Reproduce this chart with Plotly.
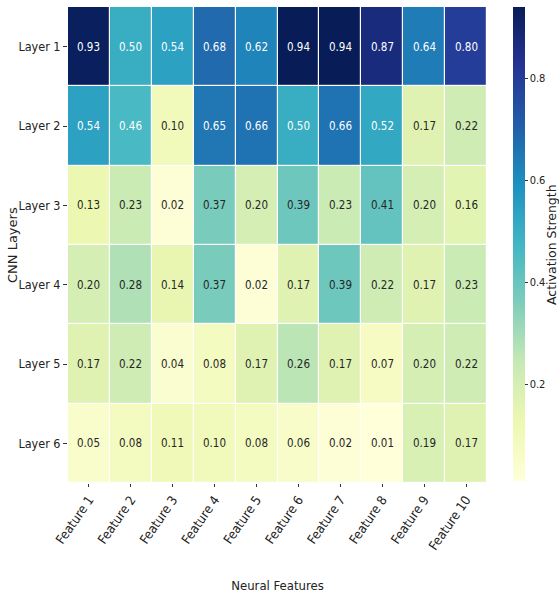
import plotly.graph_objects as go

# Activation strength per CNN layer (rows) and neural feature (columns)
layers = ["Layer 1", "Layer 2", "Layer 3", "Layer 4", "Layer 5", "Layer 6"]
features = [f"Feature {i}" for i in range(1, 11)]

layer1 = [0.93, 0.50, 0.54, 0.68, 0.62, 0.94, 0.94, 0.87, 0.64, 0.80]
layer2 = [0.54, 0.46, 0.10, 0.65, 0.66, 0.50, 0.66, 0.52, 0.17, 0.22]
layer3 = [0.13, 0.23, 0.02, 0.37, 0.20, 0.39, 0.23, 0.41, 0.20, 0.16]
layer4 = [0.20, 0.28, 0.14, 0.37, 0.02, 0.17, 0.39, 0.22, 0.17, 0.23]
layer5 = [0.17, 0.22, 0.04, 0.08, 0.17, 0.26, 0.17, 0.07, 0.20, 0.22]
layer6 = [0.05, 0.08, 0.11, 0.10, 0.08, 0.06, 0.02, 0.01, 0.19, 0.17]

z = [layer1, layer2, layer3, layer4, layer5, layer6]
zmin = min(min(r) for r in z)
zmax = max(max(r) for r in z)

ylgnbu = ["#ffffd9", "#edf8b1", "#c7e9b4", "#7fcdbb", "#41b6c4",
          "#1d91c0", "#225ea8", "#253494", "#081d58"]
colorscale = [[i / (len(ylgnbu) - 1), c] for i, c in enumerate(ylgnbu)]

FONT = "DejaVu Sans"
FONT_C = "DejaVu Sans Condensed"

W, H = 559, 594
L, R, T, B = 68, 72, 7, 111
plot_w = W - L - R


def px_to_paper_x(px):
    return (px - L) / plot_w


fig = go.Figure(go.Heatmap(
    z=z, x=features, y=layers,
    colorscale=colorscale, zmin=zmin, zmax=zmax,
    xgap=1.2, ygap=1.2,
    hoverongaps=False,
    colorbar=dict(
        thickness=12, lenmode="pixels", len=474,
        x=513 / W, xanchor="left", xpad=0, xref="container",
        y=1, yanchor="top", ypad=0,
        outlinewidth=0,
        tickvals=[0.2, 0.4, 0.6, 0.8], ticktext=["0.2", "0.4", "0.6", "0.8"],
        ticks="outside", ticklen=3, tickcolor="#333",
        tickfont=dict(family=FONT_C, size=11, color="#222"),
    ),
))

# Cell value labels, white text on dark cells
annotations = []
for layer, row in zip(layers, z):
    for feat, v in zip(features, row):
        annotations.append(dict(
            x=feat, y=layer, text=f"{v:.2f}", showarrow=False,
            font=dict(family=FONT_C, size=11.5,
                      color="white" if v >= 0.45 else "#262626"),
        ))

# Rotated axis / colorbar titles
annotations.append(dict(
    text="CNN Layers", textangle=-90, showarrow=False,
    xref="paper", yref="paper", x=px_to_paper_x(12), y=0.5,
    xanchor="center", yanchor="middle",
    font=dict(family=FONT, size=13, color="#222"),
))
annotations.append(dict(
    text="Activation Strength", textangle=-90, showarrow=False,
    xref="paper", yref="paper", x=px_to_paper_x(551), y=0.5,
    xanchor="center", yanchor="middle",
    font=dict(family=FONT, size=12.5, color="#222"),
))

fig.update_layout(
    width=W, height=H,
    margin=dict(l=L, r=R, t=T, b=B, autoexpand=False),
    plot_bgcolor="white", paper_bgcolor="white",
    annotations=annotations,
    xaxis=dict(
        title=dict(text="Neural Features", standoff=28,
                   font=dict(family=FONT_C, size=13, color="#222")),
        tickangle=-55, ticks="outside", ticklen=3, tickcolor="#333",
        tickfont=dict(family=FONT_C, size=13, color="#222"),
        showgrid=False, zeroline=False,
    ),
    yaxis=dict(
        autorange="reversed", ticks="outside", ticklen=4, tickcolor="#333",
        tickfont=dict(family=FONT_C, size=12.5, color="#222"),
        showgrid=False, zeroline=False,
    ),
)

fig.write_html("out.html")
